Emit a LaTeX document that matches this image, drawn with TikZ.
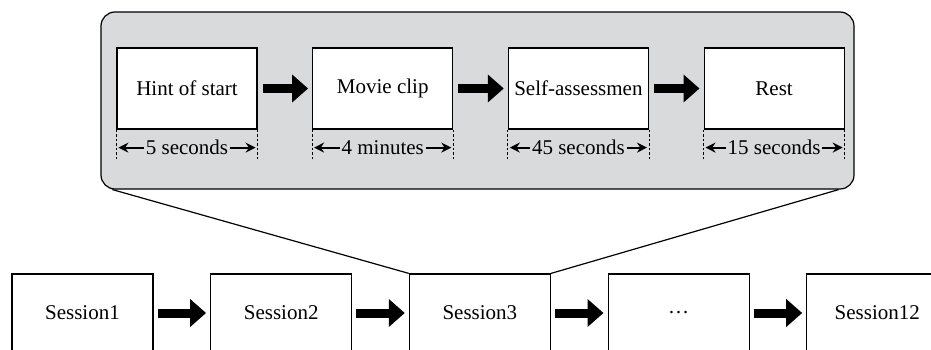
\documentclass[tikz,border=0pt]{standalone}
\usepackage{fontspec}
\setmainfont{Liberation Serif}
\usetikzlibrary{positioning,arrows.meta}
\definecolor{calloutgray}{RGB}{217,218,220}
\tikzset{
	stagebox/.style={draw, line width=1.2pt, fill=white, minimum width=140pt, minimum height=81pt, inner sep=0pt},
	sessionbox/.style={draw, line width=1.2pt, fill=white, minimum width=141pt, minimum height=78pt, inner sep=0pt},
	bigarrow/.style={line width=9pt, -{Triangle[length=16pt,width=27pt]}},
	dimline/.style={line width=1pt, dash pattern=on 2.5pt off 2pt},
	dimarrow/.style={line width=2pt, {Stealth[length=10pt,width=10pt]}-{Stealth[length=10pt,width=10pt]}},
	dimlabel/.style={fill=calloutgray, inner sep=2pt}
}
\begin{document}
\begin{tikzpicture}[x=1pt, y=-1pt, font=\fontsize{21}{25}\selectfont]
			\useasboundingbox (0,0) rectangle (931,350);
			\clip (0,0) rectangle (931,350);
			\node [draw, line width=1.2pt, fill=calloutgray, rounded corners=14pt, minimum width=753pt, minimum height=177pt] (zoom) at (477.5,100.5) {};
			\node [stagebox] (hint) at (187,88.5) {Hint of start};
			\node [stagebox, right=54.5pt of hint] (movie) {Movie clip};
			\node [stagebox, right=54.5pt of movie] (self) {Self-assessmen};
			\node [stagebox, right=54.5pt of self] (rest) {Rest};
			\draw [bigarrow] ([xshift=5pt]hint.east) -- ([xshift=-4pt]movie.west);
			\draw [bigarrow] ([xshift=5pt]movie.east) -- ([xshift=-4pt]self.west);
			\draw [bigarrow] ([xshift=5pt]self.east) -- ([xshift=-4pt]rest.west);
			\foreach \b/\t in {hint/5 seconds, movie/4 minutes, self/45 seconds, rest/15 seconds} {
				\draw [dimline] (\b.south west) -- ++(0,31);
				\draw [dimline] (\b.south east) -- ++(0,31);
				\draw [dimarrow] ([xshift=2pt,yshift=-18pt]\b.south west) -- node [dimlabel] {\t} ([xshift=-2pt,yshift=-18pt]\b.south east);
			}
			\node [sessionbox] (s1) at (82.5,313) {Session1};
			\node [sessionbox, right=56.5pt of s1] (s2) {Session2};
			\node [sessionbox, right=56.5pt of s2] (s3) {Session3};
			\node [sessionbox, right=56.5pt of s3] (s4) {…};
			\node [sessionbox, right=56.5pt of s4] (s12) {Session12};
			\draw [bigarrow] ([xshift=4pt]s1.east) -- ([xshift=-4pt]s2.west);
			\draw [bigarrow] ([xshift=4pt]s2.east) -- ([xshift=-4pt]s3.west);
			\draw [bigarrow] ([xshift=4pt]s3.east) -- ([xshift=-4pt]s4.west);
			\draw [bigarrow] ([xshift=4pt]s4.east) -- ([xshift=-4pt]s12.west);
			\draw [line width=1.2pt] ([xshift=12pt]zoom.south west) -- (s3.north west);
			\draw [line width=1.2pt] ([xshift=-16pt]zoom.south east) -- (s3.north east);
		\end{tikzpicture}
\end{document}
